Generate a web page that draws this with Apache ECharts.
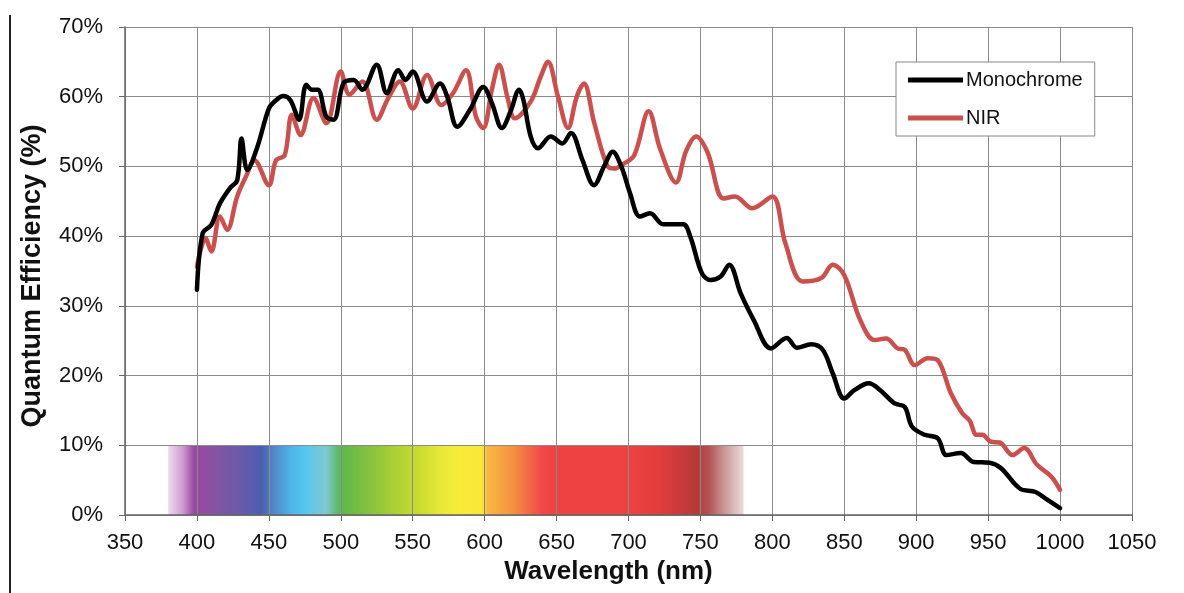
<!DOCTYPE html>
<html>
<head>
<meta charset="utf-8">
<script src="https://cdn.jsdelivr.net/npm/echarts@6/dist/echarts.min.js"></script>
<style>
html,body{margin:0;padding:0;background:#fff;}
#chart{width:1184px;height:593px;}
</style>
</head>
<body>
<div id="chart"></div>
<script>
// ---- data ----
const xTicks = [350,400,450,500,550,600,650,700,750,800,850,900,950,1000,1050];
const yTicks = [0,10,20,30,40,50,60,70];

const monoWl = [400,404,410,416,423,428,431,435,442,450,455,460,465,471,476,480,484,490,495,502,509,515,525,532,540,545,550,560,569,574,581,590,599,605,612,618,624,627,632,637,646,654,660,668,676,683,689,695,701,708,715,724,738,743,751,757,764,770,778,787,799,810,817,827,835,842,850,857,867,875,885,892,897,906,915,921,931,940,951,959,972,983,991,1000];
const monoQE = [32.3,40.4,41.6,44.7,46.9,48.0,54.0,49.5,52.8,58.3,59.5,60.1,59.5,56.7,61.7,61.0,61.0,57.1,56.7,62.0,62.4,61.0,64.6,60.5,63.8,62.4,63.6,59.3,61.9,60.0,55.7,58.2,61.4,59.1,55.5,57.9,61.0,59.5,54.3,52.6,54.3,53.3,54.8,50.9,47.3,50.0,52.1,50.0,46.2,42.8,43.3,41.7,41.7,39.9,34.7,33.7,34.2,35.9,31.8,28.0,23.9,25.4,24.0,24.5,23.7,20.3,16.7,17.9,18.9,17.9,16.0,15.5,12.7,11.5,11.0,8.6,8.9,7.6,7.5,6.7,3.8,3.3,2.2,1.0];

const nirWl = [400,406,410,416,421,428,434,440,450,455,461,466,472,481,490,500,506,515,525,533,541,550,560,570,578,587,594,599,605,610,616,621,632,639,644,651,658,664,669,676,685,690,696,704,714,722,733,740,747,755,766,774,786,800,809,821,834,842,850,861,871,879,887,892,899,908,915,924,932,937,942,946,952,958,967,975,984,994,1000];
const nirQE = [35.6,39.7,37.8,42.8,40.9,45.7,48.5,50.9,47.3,50.9,51.6,57.4,54.5,59.8,56.2,63.6,60.3,62.2,56.7,59.8,62.2,58.3,63.1,58.8,60.5,63.8,57.1,55.5,61.0,64.6,59.8,56.9,59.3,62.9,65.0,60.0,55.5,60.0,61.9,56.4,50.2,49.7,50.3,51.6,57.9,52.5,47.7,52.2,54.3,52.0,45.4,45.7,44.0,45.7,39.0,33.5,34.0,35.9,34.4,28.0,25.1,25.3,23.9,23.7,21.5,22.5,22.2,17.5,14.6,13.6,11.5,11.5,10.5,10.4,8.6,9.6,7.2,5.5,3.6];

// visible spectrum band (nm range, QE range)
const spectrumBand = [380, 780, 0, 10];
const spectrumWl = [380,390,398,410,430,445,452,465,475,490,498,503,520,540,555,570,582,598,602,620,640,650,700,722,748,756,766,780];
const spectrumColor = ['#ecdcec','#cf9ccf','#9a48a0','#8a52a2','#6a5aaa','#4a5eb0','#5282c4','#50b2e8','#52c8f0','#82c8d0','#5cb86a','#62b848','#86c23e','#b0d232','#cadc30','#e8e838','#f8ec38','#f8e838','#f9b840','#f49042','#f04848','#ee4242','#ee4242','#e23c3c','#b43a3a','#b25454','#c89494','#eadcdc'];

const seriesNames = ['Monochrome','NIR'];

// ---- chart ----
const chart = echarts.init(document.getElementById('chart'), null, {renderer:'canvas'});
const zip = (a,b) => a.map((v,i)=>[v,b[i]]);
const lo = spectrumBand[0], hi = spectrumBand[1];
const stops = spectrumWl.map((w,i)=>({offset:(w-lo)/(hi-lo), color:spectrumColor[i]}));

const FONT = '"Liberation Sans", Arial, sans-serif';
const gridColor = '#8a8a8a';

chart.setOption({
  animation:false,
  backgroundColor:'#fff',
  grid:{left:125,right:52,top:27,bottom:78,outerBoundsMode:'none',containLabel:false},
  legend:{
    data:seriesNames,
    orient:'vertical',
    left:896, top:62,
    icon:'rect',
    itemWidth:55, itemHeight:5,
    itemGap:18,
    padding:[8,12,8,12],
    borderColor:'#888', borderWidth:1,
    backgroundColor:'#fff',
    textStyle:{fontFamily:FONT,fontSize:20,color:'#111',padding:[0,0,0,-2]}
  },
  xAxis:{
    type:'value', min:xTicks[0], max:xTicks[xTicks.length-1], interval:50,
    z:1,
    name:'Wavelength (nm)', nameLocation:'middle', nameGap:44,
    nameTextStyle:{fontFamily:FONT,fontSize:26,fontWeight:'bold',color:'#111',padding:[0,40,0,0]},
    axisLine:{show:true,lineStyle:{color:'#666',width:1.5}},
    axisTick:{show:true,length:6,lineStyle:{color:'#666'}},
    axisLabel:{fontFamily:FONT,fontSize:22,color:'#111',margin:17,formatter:v=>String(v)},
    splitLine:{show:true,lineStyle:{color:gridColor,width:1}}
  },
  yAxis:{
    type:'value', min:yTicks[0], max:yTicks[yTicks.length-1], interval:10,
    z:1,
    name:'Quantum Efficiency (%)', nameLocation:'middle', nameGap:79, nameRotate:90,
    nameTextStyle:{fontFamily:FONT,fontSize:27,fontWeight:'bold',color:'#111',padding:[0,10,0,0]},
    axisLine:{show:true,lineStyle:{color:'#666',width:1.5}},
    axisTick:{show:true,length:6,lineStyle:{color:'#666'}},
    axisLabel:{fontFamily:FONT,fontSize:22,color:'#111',margin:22,formatter:'{value}%'},
    splitLine:{show:true,lineStyle:{color:gridColor,width:1}}
  },
  graphic:[{
    type:'line', shape:{x1:10,y1:15,x2:10,y2:593},
    style:{stroke:'#222',lineWidth:2}
  }],
  series:[
    {
      type:'custom', name:'spectrum', z:0, silent:true,
      data:[spectrumBand],
      encode:{x:[0,1], y:[2,3]},
      renderItem:function(params, api){
        const p0 = api.coord([api.value(0), api.value(3)]);
        const p1 = api.coord([api.value(1), api.value(2)]);
        return {type:'rect',
          shape:{x:p0[0], y:p0[1], width:p1[0]-p0[0], height:p1[1]-p0[1]},
          style:{fill:new echarts.graphic.LinearGradient(0,0,1,0,stops)}};
      }
    },
    {
      type:'line', name:seriesNames[0], z:5,
      data:zip(monoWl,monoQE),
      smooth:0.35, symbol:'none',
      lineStyle:{color:'#000',width:4.5,cap:'round',join:'round'},
      itemStyle:{color:'#000'}
    },
    {
      type:'line', name:seriesNames[1], z:4,
      data:zip(nirWl,nirQE),
      smooth:0.35, symbol:'none',
      lineStyle:{color:'#c9504c',width:4.5,cap:'round',join:'round'},
      itemStyle:{color:'#c9504c'}
    }
  ]
});
</script>
</body>
</html>
